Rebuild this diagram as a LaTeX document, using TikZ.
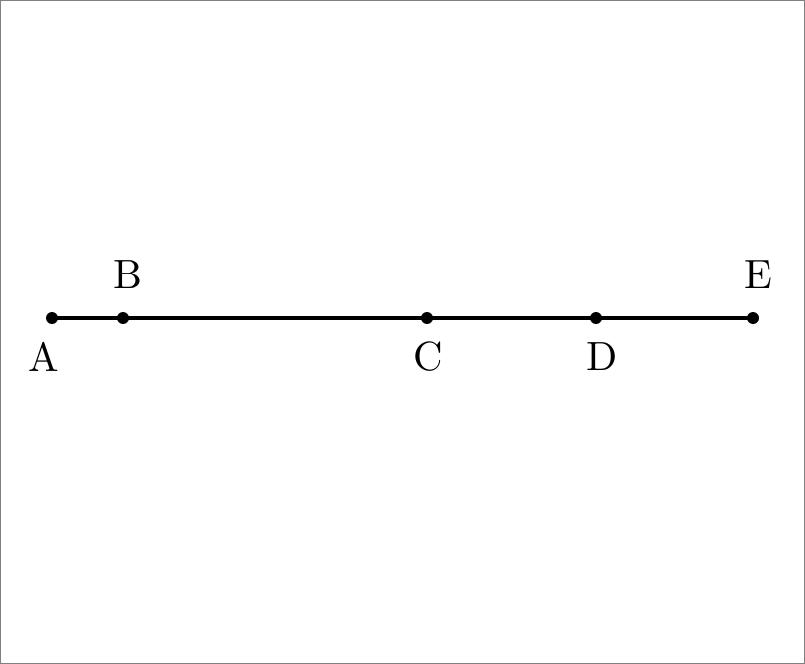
\documentclass[tikz,border=0pt]{standalone}
\begin{document}
\begin{tikzpicture}[x=0.25pt,y=-0.25pt,
  dot/.style={circle,fill=black,inner sep=0pt,minimum size=3pt},
  lbl/.style={inner sep=0pt,font=\fontsize{10.2}{12}\selectfont}]
\useasboundingbox (0,0) rectangle (805,664);
\draw[gray,line width=0.3pt] (0.5,0.5) rectangle (804.5,663.5);
\node[dot] (A) at (52,318) {};
\node[dot] (B) at (123,318) {};
\node[dot] (C) at (427,318) {};
\node[dot] (D) at (596,318) {};
\node[dot] (E) at (753,318) {};
\draw[line width=1pt] (A.center) -- (B.center) -- (C.center) -- (D.center) -- (E.center);
\node[lbl] (lA) at (44,357) {A};
\node[lbl] (lB) at (128,275) {B};
\node[lbl] (lC) at (428,357) {C};
\node[lbl] (lD) at (602,357) {D};
\node[lbl] (lE) at (758,275) {E};
\end{tikzpicture}
\end{document}
